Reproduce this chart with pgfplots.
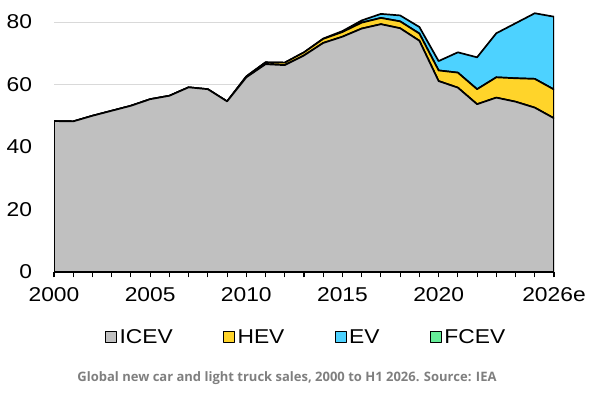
\documentclass[border=0pt]{standalone}
\usepackage{fontspec}
\setmainfont{Liberation Sans}[FakeStretch=1.14]
\newfontfamily\capfont{Open Sans}
\usepackage{pgfplots}
\usepackage{pgfplotstable}
\pgfplotsset{compat=1.18}
\definecolor{icev}{HTML}{C0C0C0}
\definecolor{hev}{HTML}{FFD42A}
\definecolor{ev}{HTML}{4DD2FF}
\definecolor{fcev}{HTML}{66EE99}
\definecolor{capgray}{HTML}{7F7F7F}
\definecolor{gridgray}{HTML}{D9D9D9}
\pgfplotstableread{
year icev hev ev
2000 48.3 0 0
2001 48.2 0 0
2002 50.0 0 0
2003 51.6 0 0
2004 53.2 0 0
2005 55.3 0 0
2006 56.4 0 0
2007 59.1 0 0
2008 58.5 0 0
2009 54.6 0 0
2010 62.3 0.3 0
2011 66.5 0.6 0
2012 66.2 0.8 0
2013 69.3 1.0 0
2014 73.3 1.3 0.1
2015 75.3 1.5 0.3
2016 77.9 1.9 0.7
2017 79.3 2.0 1.3
2018 78.0 2.2 1.9
2019 74.0 2.3 2.1
2020 61.1 3.4 3.0
2021 59.0 4.8 6.5
2022 53.7 4.8 10.2
2023 55.8 6.5 14.1
2024 54.5 7.5 17.6
2025 52.6 9.2 21.0
2026 49.2 9.2 23.3
}\datatable
\begin{document}
\begin{tikzpicture}
\useasboundingbox (0,0) rectangle (600bp,400bp);
\begin{axis}[
  at={(54bp,128bp)}, anchor=south west,
  scale only axis, width=500bp, height=265.625bp,
  xmin=2000, xmax=2026, ymin=0, ymax=85,
  axis x line*=bottom, axis y line*=left,
  y axis line style={draw=none},
  x axis line style={black, line width=1.2bp, -},
  xtick={2000,2005,2010,2015,2020,2026},
  xticklabels={2000,2005,2010,2015,2020,2026e},
  minor xtick={2001,2002,2003,2004,2006,2007,2008,2009,2011,2012,2013,2014,2016,2017,2018,2019,2021,2022,2023,2024,2025},
  tick align=outside,
  major tick length=5.5bp, minor tick length=5.5bp,
  major x tick style={black, line width=1.1bp},
  minor x tick style={black, line width=1.1bp},
  ytick={0,20,40,60,80},
  y tick style={draw=none},
  ymajorgrids, grid style={gridgray, line width=1bp},
  /pgf/number format/assume math mode=true,
  tick label style={font=\fontsize{20bp}{24bp}\selectfont},
  xticklabel style={yshift=-7bp},
  yticklabel style={xshift=-13bp},
  stack plots=y,
  every axis plot/.append style={draw=black, line width=1.7bp, line join=round},
  legend columns=4,
  legend style={at={(0.505,-0.245)}, anchor=center, draw=none, fill=none,
    font=\fontsize{20bp}{24bp}\selectfont,
    nodes={inner sep=2.5bp},
    /tikz/every even column/.append style={column sep=48bp}},
  legend image code/.code={\draw[#1, draw=black, line width=0.8bp] (0bp,-5bp) rectangle (11bp,6bp);},
]
\addplot[fill=icev] table[x=year,y=icev] \datatable \closedcycle;
\addlegendentry{ICEV}
\addplot[fill=hev] table[x=year,y=hev] \datatable \closedcycle;
\addlegendentry{HEV}
\addplot[fill=ev] table[x=year,y=ev] \datatable \closedcycle;
\addlegendentry{EV}
\addlegendimage{fill=fcev}
\addlegendentry{FCEV}
\end{axis}
\node[font=\capfont\bfseries\fontsize{13bp}{15bp}\selectfont, text=capgray] at (287bp,22bp) {Global new car and light truck sales, 2000 to H1 2026. Source: IEA};
\end{tikzpicture}
\end{document}
